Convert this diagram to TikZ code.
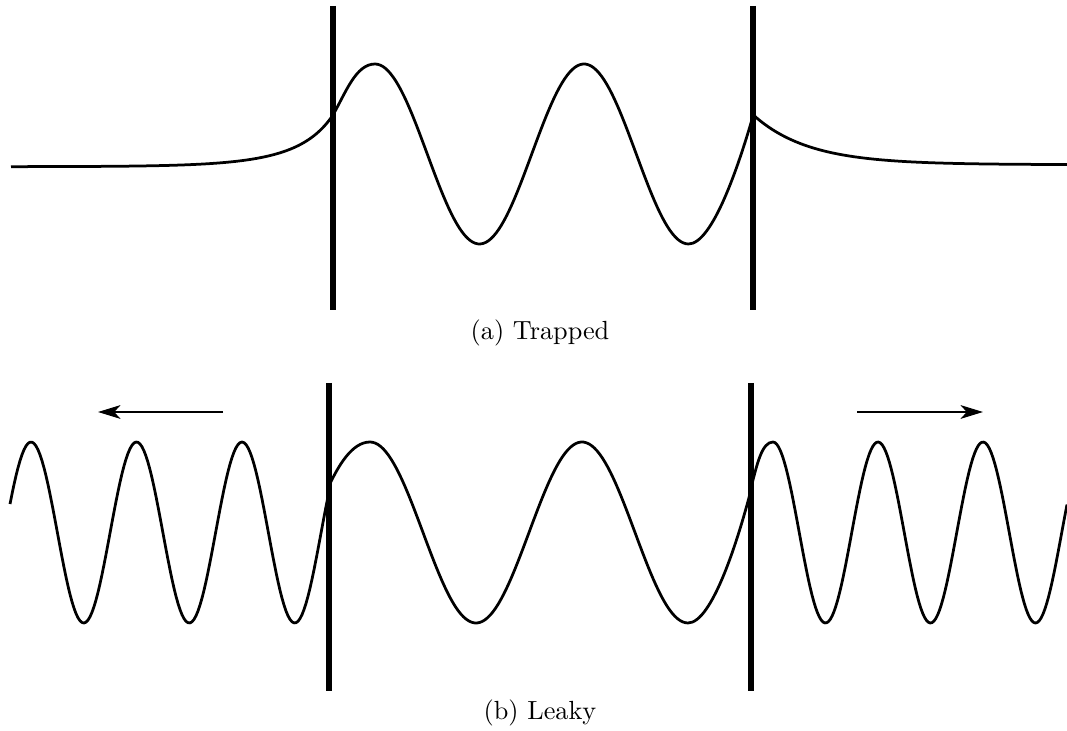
\documentclass[tikz,border=0pt]{standalone}
\usetikzlibrary{arrows.meta}
\begin{document}
\begin{tikzpicture}[x=0.4pt,y=-0.4pt,
  wall/.style={line width=2.3pt},
  wave/.style={line width=1.1pt, line join=round},
  dirarrow/.style={line width=0.8pt,-{Stealth[length=9pt,width=5.5pt,inset=2.5pt]}},
  captionlabel/.style={anchor=base, inner sep=0pt, font=\fontsize{10.5}{12.6}\selectfont}]
\useasboundingbox (0,0) rectangle (1067,731);
% ---------- (a) Trapped ----------
\draw[wave] plot[domain=11:333,samples=120] (\x,{166.7-40*exp((\x-333)/48)-11.7*exp((\x-333)/18)});
\draw[wave] (333,115) .. controls (346,92) and (356,64) .. (375,64)
  -- plot[domain=375:688.5,samples=120] (\x,{154-90*cos(1.72249*(\x-375))})
  .. controls (712,244) and (738,168) .. (753,116);
\draw[wave] plot[domain=753:1067,samples=100] (\x,{164.7-50*exp(-(\x-753)/55)});
\draw[wall] (333,6) coordinate (a1t) -- (333,310) coordinate (a1b);
\draw[wall] (753,6) coordinate (a2t) -- (753,310) coordinate (a2b);
\node[captionlabel] (capa) at (540,340) {(a) Trapped};
% ---------- (b) Leaky ----------
\draw[wave] plot[domain=10:328,samples=160] (\x,{532.5-90.5*cos(3.41232*(\x-31))});
\draw[wave] (328,488) .. controls (338,466) and (352,442) .. (370,442)
  -- plot[domain=370:688,samples=120] (\x,{532.5-90.5*cos(1.69811*(\x-370))})
  .. controls (712,623) and (738,540) .. (751,490);
\draw[wave] (751,488) .. controls (757,464) and (762,442) .. (773,442)
  -- plot[domain=773:1067,samples=160] (\x,{532.5-90.5*cos(3.42857*(\x-773))});
\draw[wall] (329,383) coordinate (b1t) -- (329,691) coordinate (b1b);
\draw[wall] (751,383) coordinate (b2t) -- (751,691) coordinate (b2b);
\coordinate (la1) at (223,412);
\coordinate (la2) at (98,412);
\coordinate (ra1) at (857,412);
\coordinate (ra2) at (983,412);
\draw[dirarrow] (la1) -- (la2);
\draw[dirarrow] (ra1) -- (ra2);
\node[captionlabel] (capb) at (540,720) {(b) Leaky};
\end{tikzpicture}
\end{document}
